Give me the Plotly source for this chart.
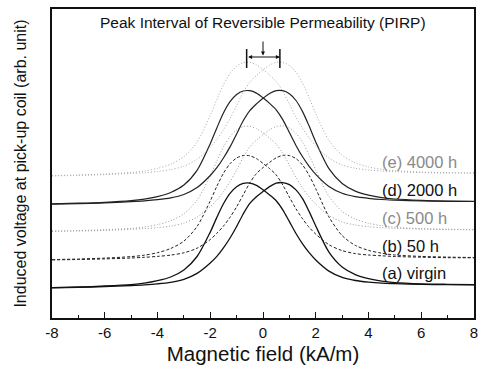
import plotly.graph_objects as go

# Magnetic field (kA/m)
field = [-8, -7, -6, -5, -4.5, -4, -3.5, -3, -2.5, -2, -1.75, -1.5, -1.25, -1, -0.75, -0.5, -0.25,
         0, 0.25, 0.5, 0.75, 1, 1.25, 1.5, 1.75, 2, 2.5, 3, 3.5, 4, 4.5, 5, 6, 7, 8]

# Induced voltage (arb. unit), two sweep directions per aging state
virgin_fwd = [3.04, 3.10, 3.20, 3.34, 3.48, 3.73, 4.10, 4.80, 6.15, 8.59, 10.06, 11.42, 12.47, 13.13, 13.46, 13.49, 13.27,
              12.83, 12.31, 11.73, 10.82, 9.64, 8.45, 7.41, 6.53, 5.80, 4.69, 4.06, 3.75, 3.59, 3.49, 3.44, 3.36, 3.33, 3.32]
virgin_rev = [3.02, 3.06, 3.13, 3.25, 3.32, 3.42, 3.57, 3.87, 4.46, 5.50, 6.16, 7.01, 8.00, 9.15, 10.40, 11.46, 12.13,
              12.65, 13.14, 13.48, 13.54, 13.34, 12.81, 11.93, 10.64, 9.20, 6.59, 5.10, 4.34, 3.93, 3.68, 3.54, 3.42, 3.37, 3.34]
h50_fwd = [5.84, 5.90, 5.99, 6.14, 6.28, 6.53, 6.95, 7.69, 9.15, 11.71, 13.17, 14.47, 15.43, 16.00, 16.25, 16.22, 15.94,
           15.46, 14.94, 14.31, 13.30, 12.09, 10.92, 9.92, 9.06, 8.39, 7.33, 6.74, 6.44, 6.30, 6.22, 6.15, 6.08, 6.03, 6.02]
h50_rev = [5.81, 5.85, 5.91, 6.00, 6.07, 6.16, 6.29, 6.52, 6.98, 7.85, 8.47, 9.19, 10.07, 11.12, 12.32, 13.51, 14.44,
           15.04, 15.56, 16.02, 16.26, 16.24, 15.94, 15.30, 14.26, 12.93, 10.11, 8.24, 7.26, 6.76, 6.48, 6.30, 6.16, 6.09, 6.05]
h500_fwd = [8.69, 8.74, 8.83, 8.96, 9.10, 9.34, 9.72, 10.42, 11.78, 14.24, 15.71, 17.09, 18.14, 18.82, 19.14, 19.17, 18.94,
            18.51, 17.98, 17.38, 16.47, 15.26, 14.06, 13.01, 12.12, 11.38, 10.25, 9.61, 9.30, 9.13, 9.03, 8.97, 8.89, 8.84, 8.82]
h500_rev = [8.67, 8.70, 8.76, 8.87, 8.94, 9.03, 9.19, 9.49, 10.08, 11.13, 11.79, 12.64, 13.62, 14.80, 16.05, 17.12, 17.78,
            18.32, 18.82, 19.15, 19.21, 19.00, 18.47, 17.57, 16.28, 14.81, 12.17, 10.66, 9.89, 9.47, 9.23, 9.07, 8.94, 8.88, 8.84]
h2000_fwd = [11.42, 11.48, 11.57, 11.73, 11.88, 12.14, 12.55, 13.30, 14.77, 17.43, 19.01, 20.50, 21.63, 22.35, 22.70, 22.73, 22.49,
             22.02, 21.46, 20.82, 19.84, 18.55, 17.25, 16.12, 15.17, 14.37, 13.16, 12.48, 12.14, 11.97, 11.85, 11.79, 11.71, 11.66, 11.65]
h2000_rev = [11.39, 11.44, 11.51, 11.63, 11.71, 11.83, 12.01, 12.35, 13.04, 14.25, 15.03, 16.00, 17.11, 18.41, 19.72, 20.74, 21.41,
             21.98, 22.46, 22.74, 22.73, 22.42, 21.75, 20.64, 19.19, 17.61, 14.93, 13.45, 12.69, 12.28, 12.03, 11.90, 11.77, 11.70, 11.67]
h4000_fwd = [14.24, 14.30, 14.40, 14.56, 14.70, 14.96, 15.38, 16.13, 17.60, 20.26, 21.84, 23.32, 24.46, 25.18, 25.53, 25.56, 25.32,
             24.85, 24.29, 23.65, 22.67, 21.38, 20.08, 18.96, 18.00, 17.20, 15.99, 15.31, 14.97, 14.80, 14.69, 14.63, 14.54, 14.50, 14.49]
h4000_rev = [14.21, 14.26, 14.34, 14.46, 14.53, 14.65, 14.84, 15.18, 15.87, 17.08, 17.86, 18.82, 19.94, 21.24, 22.55, 23.57, 24.24,
             24.81, 25.29, 25.57, 25.56, 25.25, 24.58, 23.48, 22.02, 20.44, 17.76, 16.28, 15.52, 15.11, 14.87, 14.74, 14.60, 14.54, 14.51]

labels = ["(a) virgin", "(b) 50 h", "(c) 500 h", "(d) 2000 h", "(e) 4000 h"]
label_y = [4.5, 7.2, 9.97, 12.8, 15.63]
label_x = 4.45
tick_vals = [-8, -6, -4, -2, 0, 2, 4, 6, 8]
tick_text = ["-8", "-6", "-4", "-2", "0", "2", "4", "6", "8"]

# PIRP marker: peak positions of the top curve
pirp_left = -0.62
pirp_right = 0.64
pirp_bar_lo, pirp_bar_hi, pirp_arrow_y = 25.0, 26.9, 26.1
pirp_down_top, pirp_down_tip = 27.8, 26.25

FONT = "Arial, Liberation Sans, sans-serif"

series = [
    (virgin_fwd, virgin_rev, dict(color="#111111", width=1.3, dash="solid")),
    (h50_fwd, h50_rev, dict(color="#222222", width=1.0, dash="3px,2px")),
    (h500_fwd, h500_rev, dict(color="#9a9a9a", width=1.0, dash="1px,2px")),
    (h2000_fwd, h2000_rev, dict(color="#222222", width=1.2, dash="solid")),
    (h4000_fwd, h4000_rev, dict(color="#a8a8a8", width=1.0, dash="1px,2px")),
]
label_colors = ["#111111", "#111111", "#8a8a8a", "#111111", "#8a8a8a"]

fig = go.Figure()
for fwd, rev, ln in series:
    for ys in (fwd, rev):
        fig.add_trace(go.Scatter(x=field, y=ys, mode="lines", line=dict(shape="spline", smoothing=0.8, **ln),
                                 showlegend=False, hoverinfo="skip"))

for txt, yy, col in zip(labels, label_y, label_colors):
    fig.add_annotation(x=label_x, y=yy, text=txt, showarrow=False, xanchor="left", yanchor="middle",
                       font=dict(family=FONT, size=16.5, color=col))

# title text inside the plot
fig.add_annotation(x=0.5, y=0.99, xref="paper", yref="paper", xanchor="center", yanchor="top",
                   text="Peak Interval of Reversible Permeability (PIRP)", showarrow=False,
                   font=dict(family=FONT, size=15.5, color="#111111"))

# PIRP bars
for px_ in (pirp_left, pirp_right):
    fig.add_shape(type="line", x0=px_, x1=px_, y0=pirp_bar_lo, y1=pirp_bar_hi,
                  line=dict(color="#111111", width=1.5))
fig.add_annotation(x=pirp_right, y=pirp_arrow_y, ax=pirp_left, ay=pirp_arrow_y, xref="x", yref="y",
                   axref="x", ayref="y", showarrow=True, arrowhead=2, arrowside="end+start",
                   arrowsize=0.8, arrowwidth=1, arrowcolor="#111111", text="")
fig.add_annotation(x=0, y=pirp_down_tip, ax=0, ay=pirp_down_top, xref="x", yref="y",
                   axref="x", ayref="y", showarrow=True, arrowhead=2, arrowsize=0.8, arrowwidth=1,
                   arrowcolor="#111111", text="")

fig.update_layout(
    width=485, height=365,
    margin=dict(l=52, r=11, t=9, b=47),
    paper_bgcolor="white", plot_bgcolor="white",
    font=dict(family=FONT, size=14, color="#111111"),
    xaxis=dict(range=[-8, 8], tickmode="array", tickvals=tick_vals, ticktext=tick_text,
               ticks="inside", ticklen=6, tickwidth=1.2, tickcolor="#111111",
               minor=dict(ticks="inside", dtick=1, ticklen=3, tickwidth=1, tickcolor="#111111"),
               showline=True, linecolor="#111111", linewidth=1.5, mirror=True,
               showgrid=False, zeroline=False, automargin=False,
               tickfont=dict(family=FONT, size=15, color="#111111"),
               title=dict(text="Magnetic field (kA/m)", font=dict(family=FONT, size=20.5), standoff=9)),
    yaxis=dict(range=[0, 30.9], showticklabels=False, ticks="",
               showline=True, linecolor="#111111", linewidth=1.5, mirror=True,
               showgrid=False, zeroline=False, automargin=False,
               title=dict(text="Induced voltage at pick-up coil (arb. unit)", font=dict(family=FONT, size=16),
                          standoff=20)),
)

fig.write_html("out.html", config={"displayModeBar": False},
               post_script="document.body.style.margin='0';document.body.style.overflow='hidden';")
